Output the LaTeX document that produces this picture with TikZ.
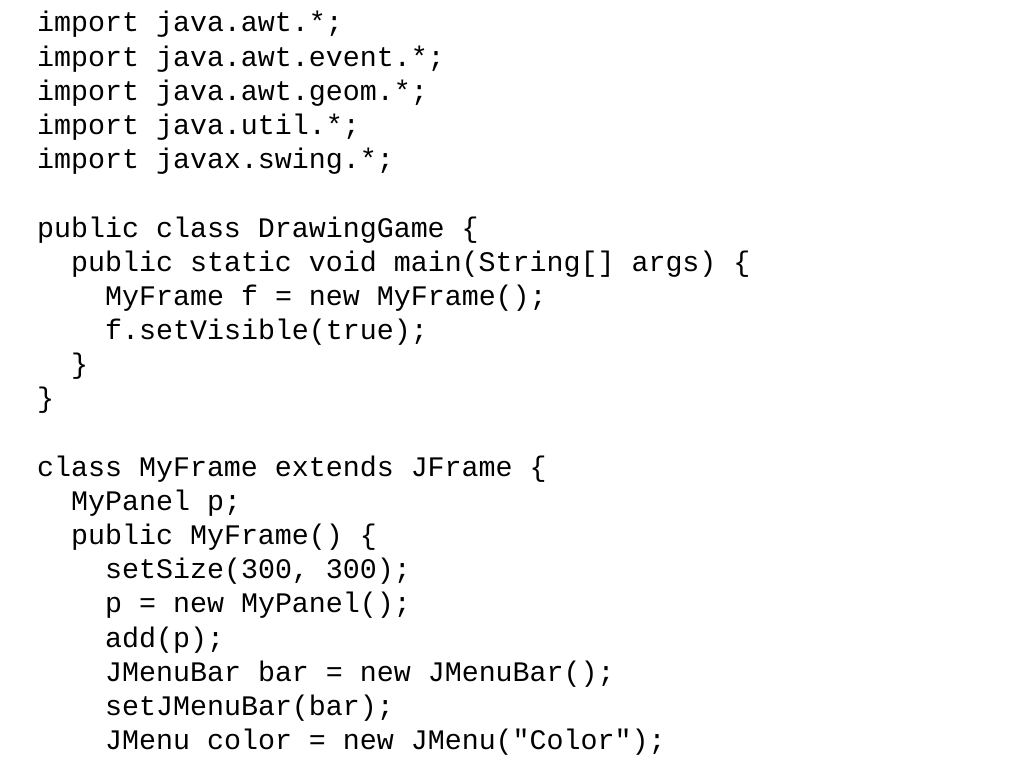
\documentclass[tikz,border=0pt]{standalone}
\usepackage{fontspec}
\setmonofont{Liberation Mono}
\begin{document}
\begin{tikzpicture}[x=1pt,y=-1pt,
  code/.style={anchor=base west,inner sep=0pt,font=\fontsize{28.3}{34}\ttfamily}]
\useasboundingbox[fill=white] (0,0) rectangle (1024,768);
\def\ls{34.17}
\newcommand\cl[4]{\node[code] (#1) at ({37+17*#2},{32+\ls*#3}) {#4};}
\cl{l1}{0}{0}{import java.awt.*;}
\cl{l2}{0}{1}{import java.awt.event.*;}
\cl{l3}{0}{2}{import java.awt.geom.*;}
\cl{l4}{0}{3}{import java.util.*;}
\cl{l5}{0}{4}{import javax.swing.*;}
\cl{l7}{0}{6}{public class DrawingGame \{}
\cl{l8}{2}{7}{public static void main(String[] args) \{}
\cl{l9}{4}{8}{MyFrame f = new MyFrame();}
\cl{l10}{4}{9}{f.setVisible(true);}
\cl{l11}{2}{10}{\}}
\cl{l12}{0}{11}{\}}
\cl{l14}{0}{13}{class MyFrame extends JFrame \{}
\cl{l15}{2}{14}{MyPanel p;}
\cl{l16}{2}{15}{public MyFrame() \{}
\cl{l17}{4}{16}{setSize(300, 300);}
\cl{l18}{4}{17}{p = new MyPanel();}
\cl{l19}{4}{18}{add(p);}
\cl{l20}{4}{19}{JMenuBar bar = new JMenuBar();}
\cl{l21}{4}{20}{setJMenuBar(bar);}
\cl{l22}{4}{21}{JMenu color = new JMenu("Color");}
\end{tikzpicture}
\end{document}
